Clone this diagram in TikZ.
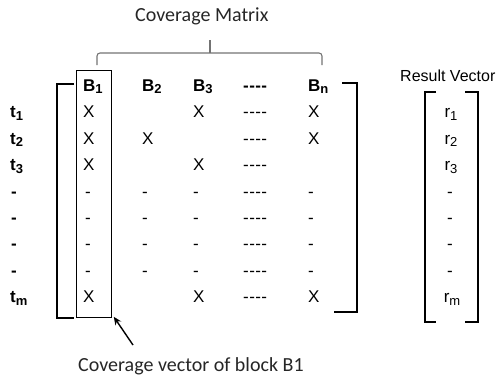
\documentclass[tikz,border=0pt]{standalone}
\usepackage{fontspec}
\setmainfont{Liberation Sans}
\newfontfamily\capfont{Carlito}
\usetikzlibrary{arrows.meta}
% four separate hyphens, kept apart so they never join into a dash
\newcommand{\hyphenrun}{-\kern0.4pt-\kern0.4pt-\kern0.4pt-}
% index set a little below the baseline, word-processor style
\newcommand{\idx}[1]{\raisebox{-0.14em}{\fontsize{13}{13}\selectfont #1}}
\begin{document}
\begin{tikzpicture}[x=1pt,y=-1pt,
  cell/.style={anchor=base west, inner sep=0pt, font=\fontsize{17}{17}\selectfont},
  hcell/.style={anchor=base west, inner sep=0pt, font=\fontsize{17}{17}\selectfont\bfseries},
  rowlab/.style={anchor=base west, inner sep=0pt, font=\fontsize{17}{17}\selectfont\bfseries},
  rcell/.style={anchor=base, inner sep=0pt, font=\fontsize{17}{17}\selectfont},
  bracket/.style={line width=1.8pt},
  brace/.style={draw=black!55, line width=1.1pt, rounded corners=3pt},
  caption/.style={anchor=base west, inner sep=0pt, font=\capfont\fontsize{20}{20}\selectfont, text=black!85},
  pointer/.style={-{Stealth[length=8pt,width=7pt]}, line width=1.4pt}
]
\useasboundingbox (0,0) rectangle (498,376);

% titles
\node[caption] (title) at (135,21) {Coverage Matrix};
\node[anchor=base west, inner sep=0pt, font=\fontsize{16}{16}\selectfont] (rtitle) at (400,81) {Result Vector};

% brace over the matrix
\draw[brace] (97,65) -- (97,53) -- (322,53) -- (322,65);
\coordinate (bracetip) at (210,40);
\coordinate (bracemid) at (210,53);
\draw[draw=black!55, line width=1.1pt] (bracemid) -- (bracetip);

% header row
\node[hcell] (h1) at (83,91.5) {B\idx{1}};
\node[hcell] (h2) at (142,91.5) {B\idx{2}};
\node[hcell] (h3) at (193,91.5) {B\idx{3}};
\node[hcell] (h4) at (243,91.5) {\hyphenrun};
\node[hcell] (h5) at (308,91.5) {B\idx{n}};

% row labels
\node[rowlab] (l1) at (10,117.9) {t\idx{1}};
\node[rowlab] (l2) at (10,144.3) {t\idx{2}};
\node[rowlab] (l3) at (10,170.7) {t\idx{3}};
\node[rowlab] (l4) at (11,197.1) {-};
\node[rowlab] (l5) at (11,223.5) {-};
\node[rowlab] (l6) at (11,249.9) {-};
\node[rowlab] (l7) at (11,276.3) {-};
\node[rowlab] (l8) at (10,302.7) {t\idx{m}};

% matrix entries
\node[cell] (c11) at (83,117.9) {X};
\node[cell] (c13) at (193,117.9) {X};
\node[cell] (c14) at (243,117.9) {\hyphenrun};
\node[cell] (c15) at (308,117.9) {X};

\node[cell] (c21) at (83,144.3) {X};
\node[cell] (c22) at (142,144.3) {X};
\node[cell] (c24) at (243,144.3) {\hyphenrun};
\node[cell] (c25) at (308,144.3) {X};

\node[cell] (c31) at (83,170.7) {X};
\node[cell] (c33) at (193,170.7) {X};
\node[cell] (c34) at (243,170.7) {\hyphenrun};

\foreach \r/\y in {4/197.1,5/223.5,6/249.9,7/276.3}{
  \node[cell] (c\r1) at (85,\y) {-};
  \node[cell] (c\r2) at (142,\y) {-};
  \node[cell] (c\r3) at (193,\y) {-};
  \node[cell] (c\r4) at (243,\y) {\hyphenrun};
  \node[cell] (c\r5) at (308,\y) {-};
}

\node[cell] (c81) at (83,302.7) {X};
\node[cell] (c83) at (193,302.7) {X};
\node[cell] (c84) at (243,302.7) {\hyphenrun};
\node[cell] (c85) at (308,302.7) {X};

% matrix brackets
\draw[bracket] (74,84) -- (57,84) -- (57,318) -- (74,318);
\draw[bracket] (342,83) -- (357,83) -- (357,312) -- (334,312);

% column B1 frame
\node[draw, line width=0.8pt, minimum width=35pt, minimum height=247pt,
      anchor=north west, inner sep=0pt] (colbox) at (76,70) {};

% result vector
\node[rcell] (r1) at (451,117.9) {r\idx{1}};
\node[rcell] (r2) at (451,144.3) {r\idx{2}};
\node[rcell] (r3) at (451,170.7) {r\idx{3}};
\node[rcell] (r4) at (450,197.1) {-};
\node[rcell] (r5) at (450,223.5) {-};
\node[rcell] (r6) at (450,249.9) {-};
\node[rcell] (r7) at (450,276.3) {-};
\node[rcell] (r8) at (452,302.7) {r\idx{m}};

\draw[bracket] (436,92) -- (425,92) -- (425,322) -- (436,322);
\draw[bracket] (465,92) -- (478,92) -- (478,322) -- (465,322);

% pointer to the framed column
\node[caption] (ctext) at (78,371) {Coverage vector of block B1};
\coordinate (ptail) at (133,345);
\draw[pointer] (ptail) -- ([shift={(2,-1)}]colbox.south east);
\end{tikzpicture}
\end{document}
